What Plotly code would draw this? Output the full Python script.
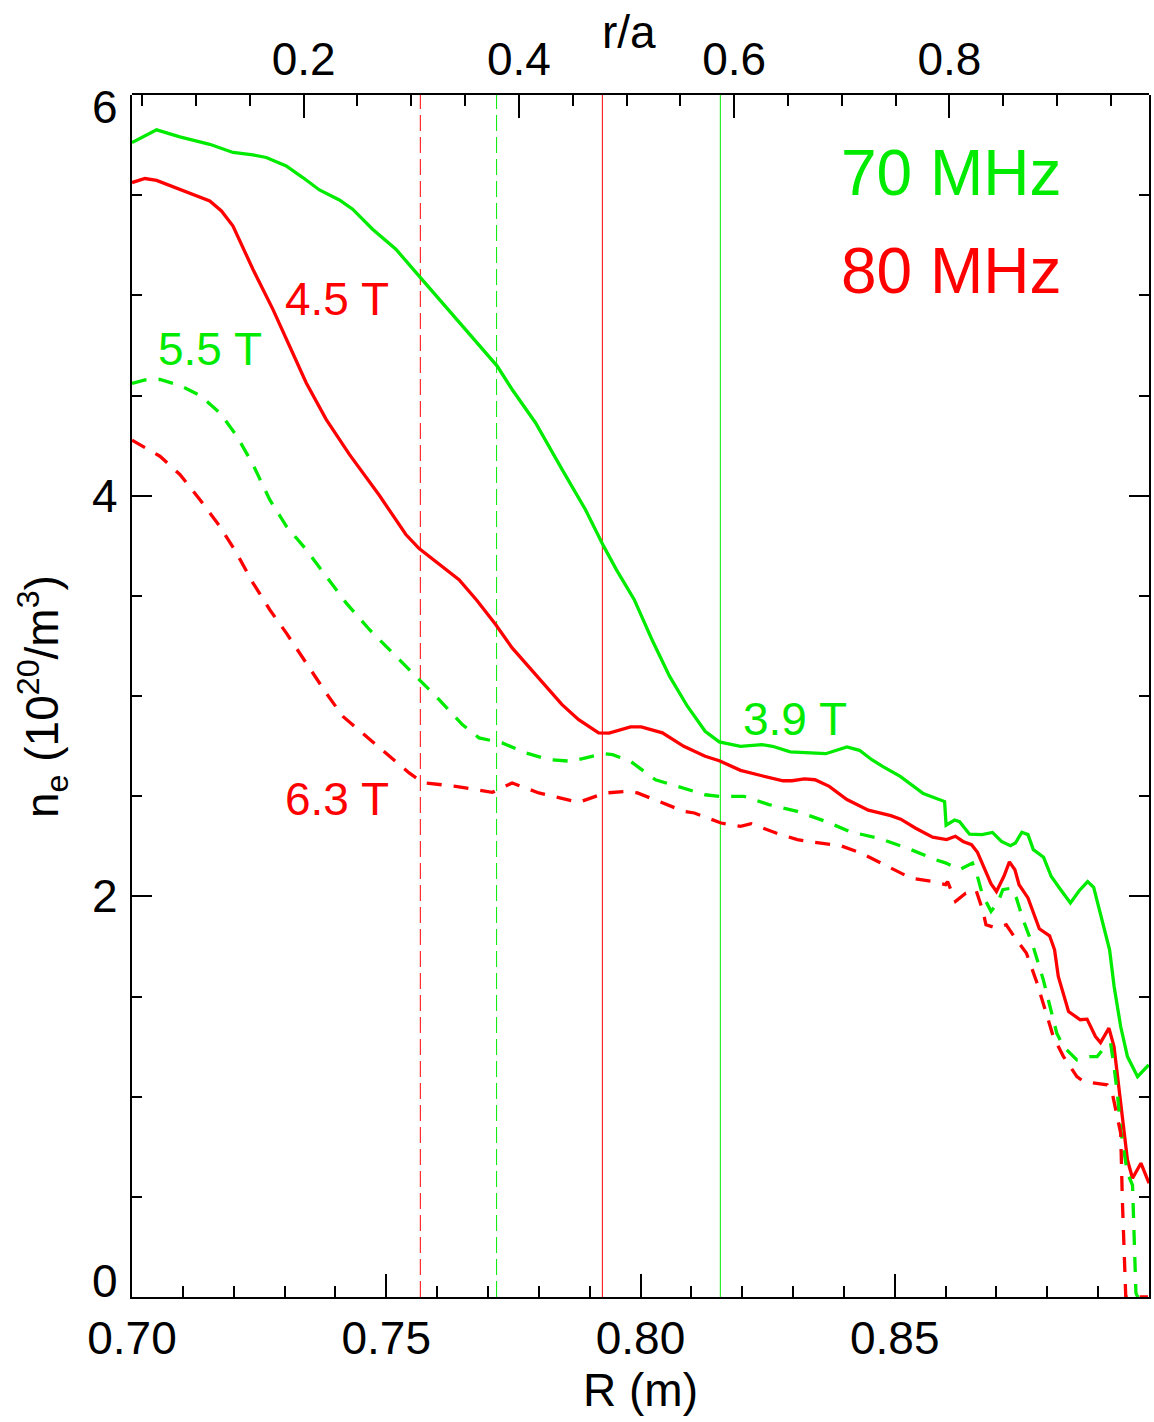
import plotly.graph_objects as go

# ---------------- data ----------------
R_green_solid = [0.7000, 0.70255, 0.70484, 0.70941, 0.71529, 0.71986, 0.72378, 0.72641, 0.73033, 0.73359,
                 0.73686, 0.74078, 0.74339, 0.74731, 0.75190, 0.75647, 0.76039, 0.76496, 0.76955, 0.77182,
                 0.77476, 0.77935, 0.78457, 0.78916, 0.79275, 0.79525, 0.79875, 0.80224, 0.80573, 0.80922,
                 0.81271, 0.81549, 0.81967, 0.82386, 0.82596, 0.82945, 0.83643, 0.84059, 0.84306, 0.84549,
                 0.84759, 0.85108, 0.85561, 0.85804, 0.85980, 0.86010, 0.86176, 0.86275, 0.86471, 0.86716,
                 0.86922, 0.87098, 0.87275, 0.87373, 0.87500, 0.87620, 0.87725, 0.87927, 0.88078, 0.88249,
                 0.88455, 0.88627, 0.88794, 0.88912, 0.89078, 0.89225, 0.89314, 0.89443, 0.89576, 0.89775,
                 0.89994]
ne_green_solid = [5.763, 5.794, 5.826, 5.791, 5.754, 5.713, 5.701, 5.688, 5.646, 5.588,
                  5.526, 5.476, 5.430, 5.330, 5.230, 5.096, 4.980, 4.847, 4.714, 4.647,
                  4.530, 4.364, 4.131, 3.931, 3.748, 3.631, 3.482, 3.282, 3.098, 2.949,
                  2.824, 2.771, 2.749, 2.757, 2.749, 2.721, 2.712, 2.746, 2.729, 2.682,
                  2.649, 2.599, 2.513, 2.491, 2.473, 2.355, 2.381, 2.373, 2.310, 2.308,
                  2.319, 2.274, 2.253, 2.266, 2.320, 2.308, 2.233, 2.195, 2.099, 2.038,
                  1.967, 2.028, 2.074, 2.045, 1.883, 1.733, 1.550, 1.350, 1.200, 1.100,
                  1.159]

R_red_solid = [0.7000, 0.70255, 0.70484, 0.70810, 0.71269, 0.71529, 0.71759, 0.71986, 0.72378, 0.72771,
               0.73098, 0.73425, 0.73818, 0.74275, 0.74863, 0.75386, 0.75647, 0.76039, 0.76431, 0.76784,
               0.77151, 0.77476, 0.78000, 0.78457, 0.78784, 0.79176, 0.79382, 0.79804, 0.80014, 0.80431,
               0.80851, 0.81271, 0.81549, 0.81967, 0.82386, 0.82804, 0.82980, 0.83224, 0.83431, 0.83712,
               0.84059, 0.84480, 0.84922, 0.85118, 0.85412, 0.85745, 0.86020, 0.86192, 0.86343, 0.86510,
               0.86627, 0.86788, 0.86892, 0.87000, 0.87147, 0.87255, 0.87363, 0.87445, 0.87620, 0.87843,
               0.88045, 0.88143, 0.88216, 0.88418, 0.88647, 0.88782, 0.88947, 0.89047, 0.89212, 0.89312,
               0.89378, 0.89476, 0.89576, 0.89676, 0.89841, 0.90000]
ne_red_solid = [5.563, 5.583, 5.574, 5.543, 5.500, 5.471, 5.421, 5.346, 5.130, 4.930,
                4.747, 4.564, 4.381, 4.206, 4.002, 3.806, 3.736, 3.656, 3.581, 3.477,
                3.357, 3.240, 3.090, 2.957, 2.882, 2.816, 2.815, 2.846, 2.846, 2.816,
                2.749, 2.699, 2.677, 2.629, 2.602, 2.577, 2.577, 2.586, 2.582, 2.549,
                2.483, 2.430, 2.403, 2.385, 2.340, 2.295, 2.283, 2.300, 2.274, 2.258,
                2.220, 2.120, 2.063, 2.024, 2.100, 2.172, 2.133, 2.058, 1.992, 1.838,
                1.803, 1.733, 1.600, 1.425, 1.384, 1.387, 1.300, 1.270, 1.342, 1.250,
                1.100, 0.884, 0.684, 0.593, 0.668, 0.568]

R_green_dash = [0.7000, 0.70255, 0.70549, 0.70941, 0.71333, 0.71725, 0.72053, 0.72378, 0.72706, 0.73033,
                0.73425, 0.73818, 0.74210, 0.74667, 0.75190, 0.75647, 0.76039, 0.76496, 0.76824, 0.77280,
                0.77739, 0.78196, 0.78653, 0.79045, 0.79308, 0.79451, 0.79804, 0.80294, 0.80712, 0.81271,
                0.81549, 0.82039, 0.82525, 0.83084, 0.83643, 0.84118, 0.84749, 0.85318, 0.85804, 0.86010,
                0.86275, 0.86529, 0.86627, 0.86725, 0.86894, 0.87025, 0.87125, 0.87292, 0.87392, 0.87524,
                0.87722, 0.87922, 0.88053, 0.88186, 0.88318, 0.88582, 0.88847, 0.88980, 0.89114, 0.89245,
                0.89312, 0.89378, 0.89443, 0.89576, 0.89676, 0.89710, 0.89743, 0.89775, 0.89980]
ne_green_dash = [4.560, 4.578, 4.580, 4.550, 4.501, 4.414, 4.301, 4.156, 3.981, 3.848,
                 3.731, 3.598, 3.465, 3.332, 3.198, 3.082, 2.982, 2.857, 2.791, 2.766,
                 2.716, 2.682, 2.674, 2.699, 2.711, 2.707, 2.674, 2.582, 2.549, 2.507,
                 2.499, 2.499, 2.458, 2.424, 2.374, 2.323, 2.285, 2.233, 2.183, 2.166,
                 2.133, 2.166, 2.099, 2.008, 1.925, 1.967, 2.033, 2.041, 1.992, 1.883,
                 1.750, 1.583, 1.450, 1.317, 1.250, 1.184, 1.200, 1.200, 1.242, 1.267,
                 1.150, 1.017, 0.834, 0.618, 0.559, 0.318, 0.020, 0.000, 0.000]

R_red_dash = [0.7000, 0.70549, 0.70941, 0.71333, 0.71725, 0.72053, 0.72378, 0.72706, 0.73033, 0.73425,
              0.73818, 0.74143, 0.74602, 0.74994, 0.75451, 0.75680, 0.75778, 0.76366, 0.77084, 0.77476,
              0.78000, 0.78784, 0.79308, 0.79735, 0.79941, 0.80363, 0.80851, 0.81059, 0.81412, 0.81584,
              0.81967, 0.82176, 0.82667, 0.83084, 0.83363, 0.83922, 0.84339, 0.84902, 0.85318, 0.85735,
              0.86000, 0.86039, 0.86196, 0.86396, 0.86596, 0.86727, 0.86794, 0.86992, 0.87192, 0.87392,
              0.87588, 0.87788, 0.87986, 0.88118, 0.88318, 0.88582, 0.88716, 0.88980, 0.89178, 0.89278,
              0.89378, 0.89443, 0.89476, 0.89543, 0.89980]
ne_red_dash = [4.277, 4.197, 4.106, 3.981, 3.848, 3.715, 3.565, 3.432, 3.315, 3.165,
               3.015, 2.899, 2.799, 2.716, 2.616, 2.574, 2.566, 2.549, 2.519, 2.566,
               2.516, 2.469, 2.516, 2.524, 2.516, 2.474, 2.424, 2.416, 2.383, 2.366,
               2.349, 2.363, 2.316, 2.283, 2.271, 2.254, 2.216, 2.143, 2.091, 2.074,
               2.058, 2.074, 1.975, 2.016, 2.033, 1.933, 1.858, 1.842, 1.858, 1.783,
               1.717, 1.575, 1.417, 1.300, 1.200, 1.100, 1.075, 1.067, 1.059, 1.017,
               0.884, 0.818, 0.485, 0.000, 0.000]

# vertical reference lines (R in m)
vline_R = [0.7567, 0.7717, 0.7925, 0.8157]
vline_color = ["red_c", "green_c", "red_c", "green_c"]
vline_dash = ["16px,6px", "16px,6px", "solid", "solid"]

# curve labels
label_text = ["4.5 T", "5.5 T", "3.9 T", "6.3 T"]
label_R = [0.7403, 0.7154, 0.8304, 0.7403]
label_ne = [4.98, 4.73, 2.887, 2.487]
label_col = ["red_c", "green_c", "green_c", "red_c"]

freq_text = ["70 MHz", "80 MHz"]
freq_R = [0.8612, 0.8612]
freq_ne = [5.609, 5.120]
freq_col = ["green_c", "red_c"]

x_ticks = [0.70, 0.75, 0.80, 0.85]
y_ticks = [0, 2, 4, 6]
y_ticktext = ["0", "2", "4", "6"]
ra_ticks = [0.2, 0.4, 0.6, 0.8]
ra_range = [0.0405, 0.9855]

# ---------------- styling ----------------
GREEN = "rgb(0,235,0)"
RED = "rgb(255,0,0)"
cmap = {"green_c": GREEN, "red_c": RED}
FONT = "Liberation Sans, Arial, Helvetica, sans-serif"
DASH = "15px,12px"

fig = go.Figure()
fig.add_trace(go.Scatter(x=R_green_solid, y=ne_green_solid, mode="lines",
                         line=dict(color=GREEN, width=3.3), showlegend=False))
fig.add_trace(go.Scatter(x=R_red_solid, y=ne_red_solid, mode="lines",
                         line=dict(color=RED, width=3.3), showlegend=False))
fig.add_trace(go.Scatter(x=R_green_dash, y=ne_green_dash, mode="lines",
                         line=dict(color=GREEN, width=3.3, dash=DASH), showlegend=False))
fig.add_trace(go.Scatter(x=R_red_dash, y=ne_red_dash, mode="lines",
                         line=dict(color=RED, width=3.3, dash=DASH), showlegend=False))
# empty trace so the top r/a axis (its own subplot on the same area) is drawn
fig.add_trace(go.Scatter(x=ra_ticks, y=[None] * len(ra_ticks), xaxis="x2", yaxis="y2",
                         mode="lines", showlegend=False, hoverinfo="skip"))

for xv, c, d in zip(vline_R, vline_color, vline_dash):
    fig.add_shape(type="line", xref="x", yref="paper", x0=xv, x1=xv, y0=0, y1=1,
                  line=dict(color=cmap[c], width=1, dash=d), layer="below")

for t, xv, yv, c in zip(label_text, label_R, label_ne, label_col):
    fig.add_annotation(x=xv, y=yv, xref="x", yref="y", text=t, showarrow=False,
                       font=dict(family=FONT, size=46, color=cmap[c]),
                       xanchor="center", yanchor="middle")
for t, xv, yv, c in zip(freq_text, freq_R, freq_ne, freq_col):
    fig.add_annotation(x=xv, y=yv, xref="x", yref="y", text=t, showarrow=False,
                       font=dict(family=FONT, size=64, color=cmap[c]),
                       xanchor="center", yanchor="middle")

axis_font = dict(family=FONT, size=46, color="black")

# y tick labels (end labels nudged inward as in the original)
y_shift = {0: 16, 6: -12}
for v, t in zip(y_ticks, y_ticktext):
    fig.add_annotation(x=0, y=v, xref="paper", yref="y", text=t, showarrow=False,
                       font=axis_font, xanchor="right", yanchor="middle",
                       xshift=-12, yshift=y_shift.get(v, 0))

fig.add_annotation(x=0.4887, y=1.0528, xref="paper", yref="paper", text="r/a",
                   showarrow=False, font=axis_font, xanchor="center", yanchor="middle")

fig.update_layout(
    width=1154, height=1422,
    margin=dict(l=132, r=3, t=95, b=125),
    paper_bgcolor="white", plot_bgcolor="rgba(0,0,0,0)",
    font=axis_font,
    xaxis=dict(range=[0.70, 0.90], tickvals=x_ticks, tickformat=".2f",
               domain=[0, 1], anchor="y",
               ticks="inside", ticklen=23, tickwidth=2, tickcolor="black",
               minor=dict(dtick=0.01, tick0=0.70, ticks="inside", ticklen=11, tickwidth=2, tickcolor="black"),
               showline=True, linewidth=2, linecolor="black", mirror=False,
               showgrid=False, zeroline=False, tickfont=axis_font,
               title=dict(text="R (m)", font=axis_font, standoff=4)),
    xaxis2=dict(range=ra_range, tickvals=ra_ticks, tickformat=".1f",
                domain=[0, 1], anchor="y2", side="top",
                ticks="inside", ticklen=23, tickwidth=2, tickcolor="black",
                minor=dict(dtick=0.05, tick0=0.0, ticks="inside", ticklen=11, tickwidth=2, tickcolor="black"),
                showline=True, linewidth=2, linecolor="black",
                showgrid=False, zeroline=False, tickfont=axis_font,
                ticklabelstandoff=0),
    yaxis=dict(range=[0, 6], tickvals=y_ticks, showticklabels=False, domain=[0, 1], anchor="x",
               ticks="inside", ticklen=20, tickwidth=2, tickcolor="black",
               minor=dict(dtick=0.5, tick0=0, ticks="inside", ticklen=10, tickwidth=2, tickcolor="black"),
               showline=True, linewidth=2, linecolor="black", mirror="allticks",
               showgrid=False, zeroline=False),
    yaxis2=dict(range=[0, 6], domain=[0, 1], anchor="x2", visible=False,
                showgrid=False, zeroline=False),
)

# y-axis title as rotated annotation
fig.add_annotation(x=-0.0885, y=0.5, xref="paper", yref="paper",
                   text="n<sub>e</sub> (10<sup>20</sup>/m<sup>3</sup>)", showarrow=False,
                   font=axis_font, textangle=-90, xanchor="center", yanchor="middle")

fig.write_html("out.html")
